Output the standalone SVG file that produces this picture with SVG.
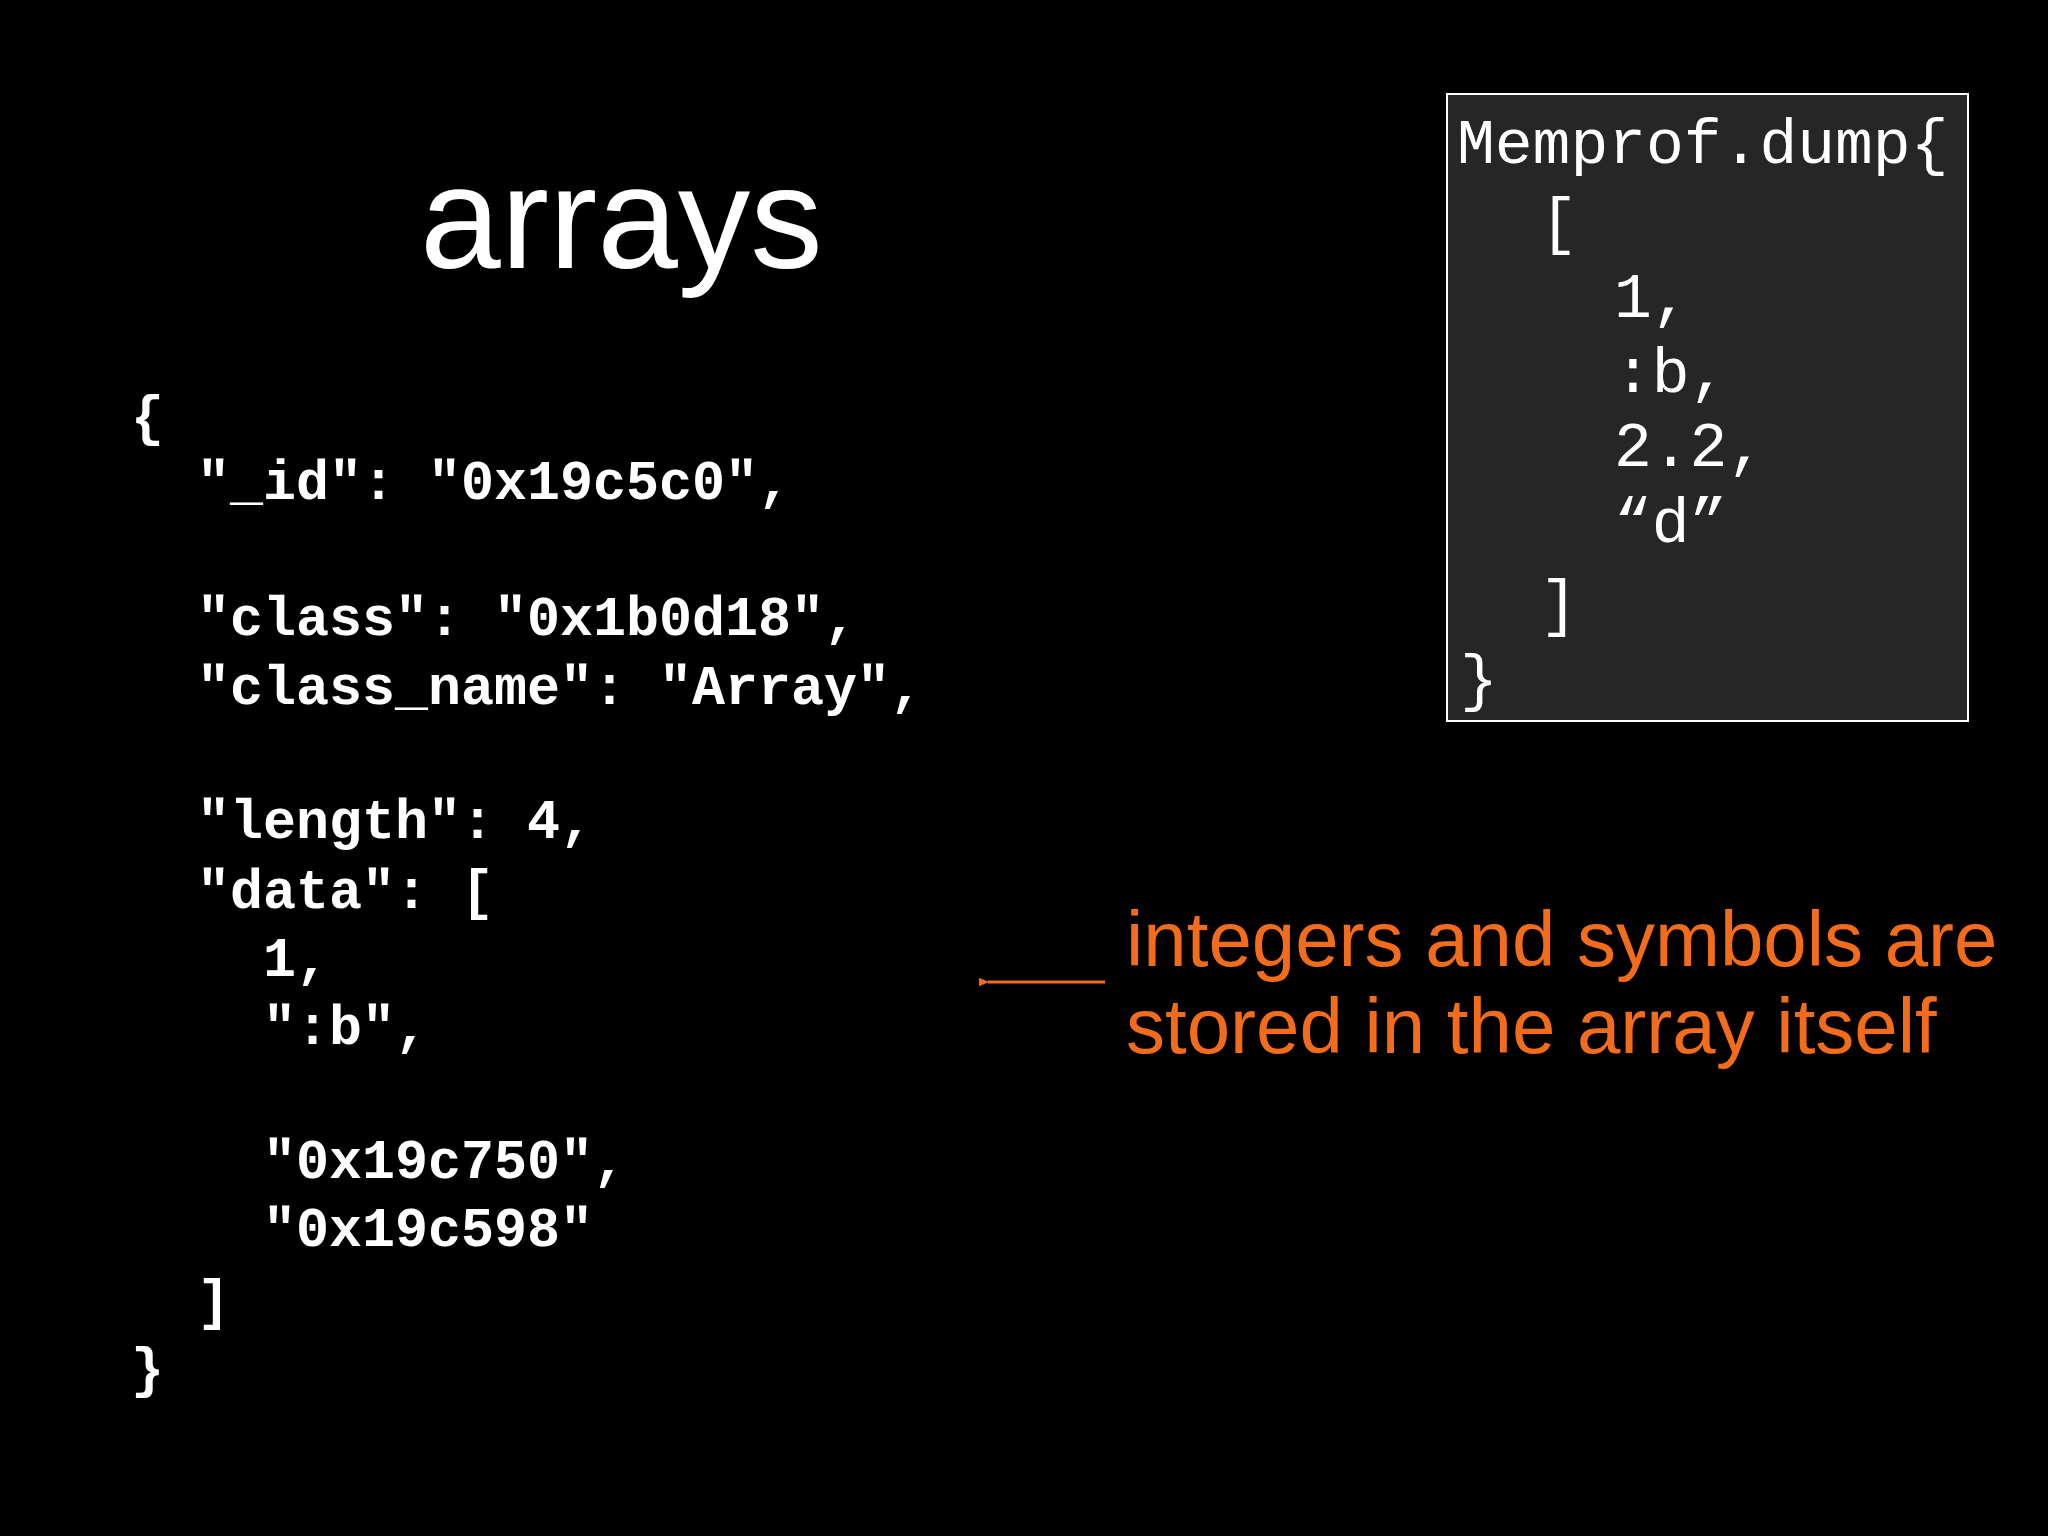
<svg xmlns="http://www.w3.org/2000/svg" width="2048" height="1536" viewBox="0 0 2048 1536">
<style>
.c{font-family:"Liberation Mono",monospace;font-weight:bold;font-size:55px;fill:#fff}
.b{font-family:"Liberation Mono",monospace;font-size:63px;fill:#fff}
.o{font-family:"Liberation Sans",Arial,sans-serif;font-size:78px;fill:#f26c1c}
</style>
<defs><marker id="ah" markerWidth="10" markerHeight="10" refX="1" refY="5" orient="auto" markerUnits="userSpaceOnUse"><path d="M12,0 L0,5 L12,10 Z" fill="#f26c1c"/></marker></defs>
<rect width="2048" height="1536" fill="#000"/>
<text x="420" y="268" font-family="'Liberation Sans',sans-serif" font-size="145" fill="#fff">arrays</text>
<g id="json">
<text class="c" x="131" y="434">{</text>
<text class="c" x="197" y="499">"_id": "0x19c5c0",</text>
<text class="c" x="197" y="635">"class": "0x1b0d18",</text>
<text class="c" x="197" y="704">"class_name": "Array",</text>
<text class="c" x="197" y="838">"length": 4,</text>
<text class="c" x="197" y="908">"data": [</text>
<text class="c" x="263" y="976">1,</text>
<text class="c" x="263" y="1044">":b",</text>
<text class="c" x="263" y="1178">"0x19c750",</text>
<text class="c" x="263" y="1246">"0x19c598"</text>
<text class="c" x="197" y="1318">]</text>
<text class="c" x="131" y="1386">}</text>
</g>
<g id="box">
<rect x="1447" y="94" width="521" height="627" fill="#262626" stroke="#fff" stroke-width="2"/>
<text class="b" x="1457" y="163">Memprof.dump{</text>
<text class="b" x="1540" y="242">[</text>
<text class="b" x="1614" y="317">1,</text>
<text class="b" x="1614" y="392">:b,</text>
<text class="b" x="1614" y="466">2.2,</text>
<text class="b" x="1614" y="542">“d”</text>
<text class="b" x="1540" y="624">]</text>
<text class="b" x="1460" y="699">}</text>
</g>
<g id="note">
<text class="o" x="1126" y="966">integers and symbols are</text>
<text class="o" x="1126" y="1053">stored in the array itself</text>
</g>
<g id="connectors">
<line x1="1105" y1="982" x2="988" y2="982" stroke="#f26c1c" stroke-width="3" marker-end="url(#ah)"/>
</g>
</svg>
